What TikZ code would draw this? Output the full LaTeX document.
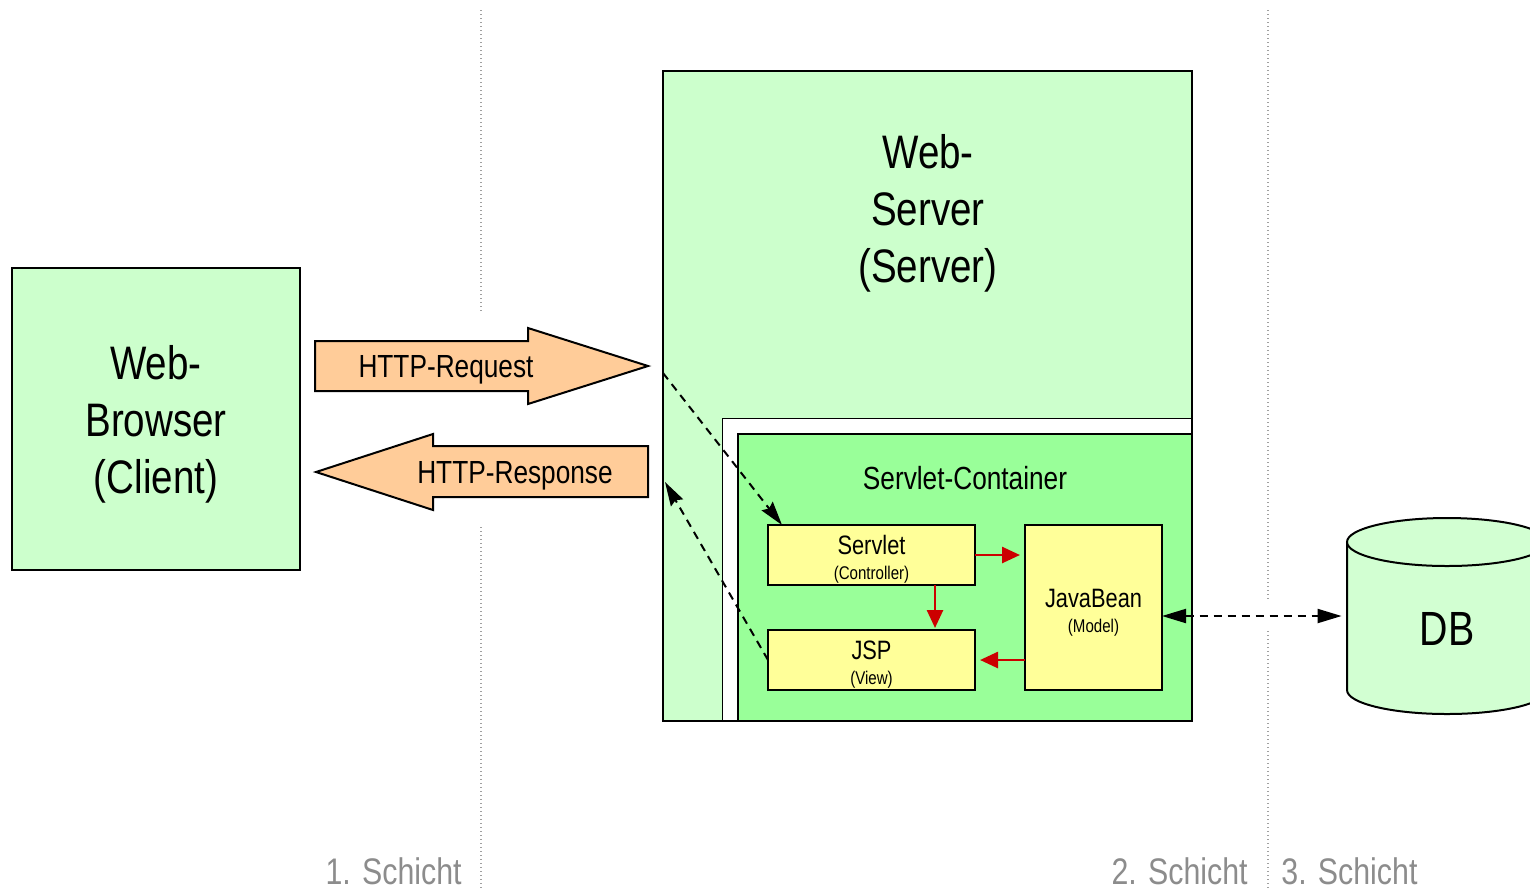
\documentclass[tikz,border=0pt]{standalone}
\usepackage{fontspec}
\setmainfont[FakeStretch=0.82]{Liberation Sans}
\usetikzlibrary{arrows.meta,calc}
\definecolor{lightgreen}{HTML}{CCFFCC}
\definecolor{dbgreen}{HTML}{D2FFD2}
\definecolor{midgreen}{HTML}{99FF99}
\definecolor{paleyellow}{HTML}{FFFF99}
\definecolor{peach}{HTML}{FFCC99}
\definecolor{darkred}{HTML}{CC0000}
\definecolor{layergray}{HTML}{8C8C8C}
\definecolor{dotgray}{HTML}{A0A0A0}
\newcommand\roletextfont{\fontsize{9.2pt}{11pt}\selectfont}

\begin{document}
\begin{tikzpicture}[x=0.5pt,y=-0.5pt,
  box/.style={draw=black, line width=1pt, inner sep=0pt, outer sep=0pt, align=center},
  bigtext/.style={font=\fontsize{23.5pt}{28.5pt}\selectfont, align=center},
  midtext/.style={font=\fontsize{16pt}{19pt}\selectfont},
  comptext/.style={font=\fontsize{13.3pt}{12.5pt}\selectfont, align=center},
  layertext/.style={font=\fontsize{18.5pt}{22pt}\selectfont, text=layergray, inner sep=0pt},
  flowshape/.style={draw=black, line width=1pt, fill=peach, line join=miter},
  redarrow/.style={draw=darkred, line width=1.3pt, -{Triangle[length=9pt,width=8pt]}},
  callarrow/.style={line width=1pt, dash pattern=on 4pt off 3pt,
    -{Stealth[length=12pt,width=7pt,inset=1.5pt]}},
  dataarrow/.style={line width=1pt, dash pattern=on 4pt off 3pt,
    {Triangle[length=12pt,width=7pt]}-{Triangle[length=12pt,width=7pt]}},
  layerline/.style={draw=dotgray, line width=0.6pt, dash pattern=on 0.6pt off 1.4pt}]

\useasboundingbox (0,0) rectangle (1530,890);

% layer separators
\draw[layerline] (481,10) -- (481,311);
\draw[layerline] (481,527) -- (481,890);
\draw[layerline] (1268,10) -- (1268,600);
\draw[layerline] (1268,631) -- (1268,890);

% layer captions
\node[layertext, anchor=east] (layer1) at (462,871) {1. Schicht};
\node[layertext, anchor=east] (layer2) at (1248,871) {2. Schicht};
\node[layertext, anchor=west] (layer3) at (1281,871) {3. Schicht};

% client
\node[box, fill=lightgreen, minimum width=144pt, minimum height=151pt,
  label={[bigtext, yshift=-2.5pt]center:{Web-\\Browser\\(Client)}}]
  (browser) at (156,419) {};

% web server with servlet container
\node[box, fill=lightgreen, minimum width=264.5pt, minimum height=325pt]
  (server) at (927.5,396) {};
\node[bigtext] (servertext) at (928,213) {Web-\\Server\\(Server)};
\node[draw=black, line width=0.5pt, fill=white, inner sep=0pt,
  minimum width=235pt, minimum height=151.5pt] (frame) at (957,569.5) {};
\node[box, fill=midgreen, minimum width=227pt, minimum height=143.5pt]
  (container) at (965,577.5) {};
\node[midtext] (containertext) at (965,478) {Servlet-Container};
\draw[line width=1pt] (server.north east) -- (server.south east) -- (server.south west);

\node[box, fill=paleyellow, minimum width=103.5pt, minimum height=30pt,
  label={[comptext, yshift=-2pt]center:{Servlet\\{\roletextfont(Controller)}}}]
  (servlet) at (871.5,555) {};
\node[box, fill=paleyellow, minimum width=103.5pt, minimum height=30pt,
  label={[comptext, yshift=-2.5pt]center:{JSP\\{\roletextfont(View)}}}]
  (jsp) at (871.5,660) {};
\node[box, fill=paleyellow, minimum width=68.5pt, minimum height=82.5pt,
  label={[comptext, yshift=-2.5pt]center:{JavaBean\\{\roletextfont(Model)}}}]
  (javabean) at (1093.5,607.5) {};

% MVC interplay
\draw[redarrow, shorten >=2.5pt] (servlet.east |- 0,555) -- (javabean.west |- 0,555);
\draw[redarrow, shorten >=1pt] ([xshift=-20pt]servlet.south east) -- ([xshift=-20pt]jsp.north east);
\draw[redarrow, shorten >=2.5pt] (javabean.west |- jsp.east) -- (jsp.east);

% request and response
\path[flowshape] (315,341) -- (528,341) -- (528,328) -- (648,366) -- (528,404)
  -- (528,391) -- (315,391) -- cycle;
\node[midtext] (request) at (446,370) {HTTP-Request};
\path[flowshape] (648,446) -- (433,446) -- (433,434) -- (316,472) -- (433,510)
  -- (433,497) -- (648,497) -- cycle;
\node[midtext] (response) at (515,476) {HTTP-Response};

\coordinate (reqin) at (663,373);
\coordinate (respout) at (665,482);
\draw[callarrow] (reqin) -- ([xshift=7pt]servlet.north west);
\draw[callarrow] (jsp.west) -- (respout);

% database
\node[inner sep=0pt, minimum width=100pt, minimum height=98pt] (db) at (1447,616) {};
\draw[line width=1pt, fill=dbgreen] (1347,542) -- (1347,690)
  arc[start angle=180, end angle=360, x radius=50pt, y radius=12pt]
  -- (1547,542) -- cycle;
\draw[line width=1pt, fill=dbgreen] (1447,542) ellipse[x radius=50pt, y radius=12pt];
\node[font=\fontsize{24pt}{28pt}\selectfont] (dbtext) at (1447,629) {DB};

\draw[dataarrow, shorten >=2.5pt] (javabean.east |- db.west) -- (db.west);

\end{tikzpicture}
\end{document}
